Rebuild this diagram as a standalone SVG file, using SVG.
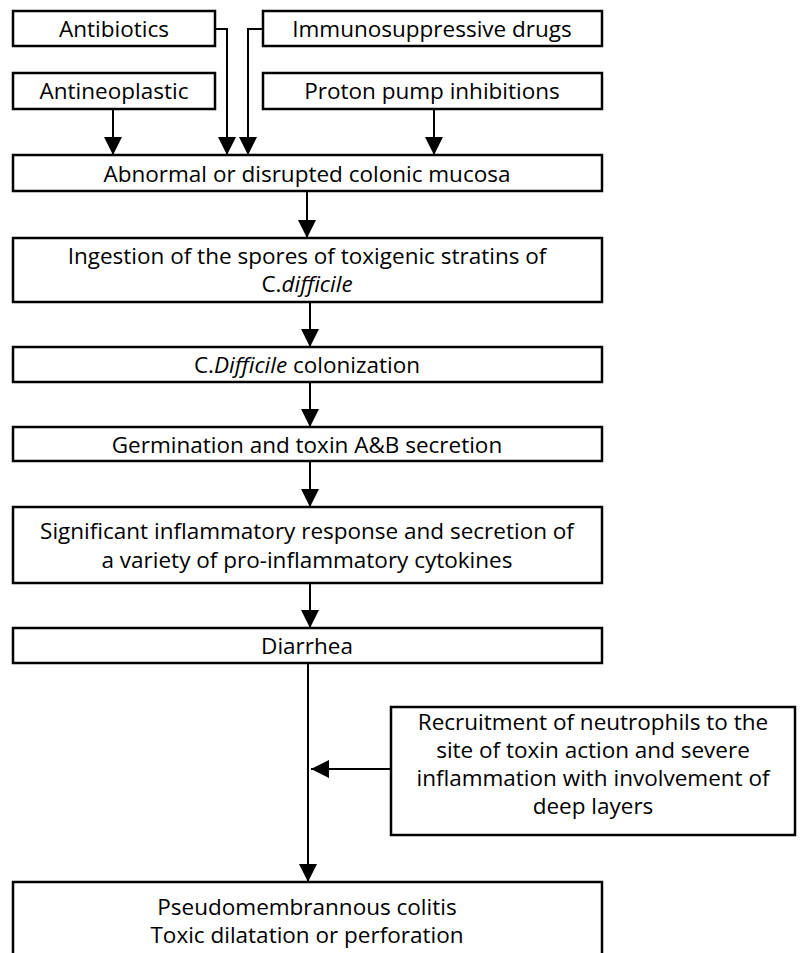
<svg xmlns="http://www.w3.org/2000/svg" width="800" height="953" viewBox="0 0 800 953">
<defs>
<marker id="ah" viewBox="0 0 18 18" refX="18" refY="9" markerWidth="18" markerHeight="18" markerUnits="userSpaceOnUse" orient="auto">
<path d="M0,0 L18,9 L0,18 Z" fill="#000"/>
</marker>
<style>
.box{fill:#fff;stroke:#000;stroke-width:2.5}
.t{font-family:"Open Sans","Liberation Sans",sans-serif;font-size:22.5px;fill:#000;text-anchor:middle}
.c{fill:none;stroke:#000;stroke-width:2}
.i{font-style:italic}
</style>
</defs>
<rect width="800" height="953" fill="#fff"/>
<g id="antibiotics"><rect class="box" x="13" y="11" width="202" height="35"/><text class="t" x="114" y="37">Antibiotics</text></g>
<g id="immuno"><rect class="box" x="263" y="11" width="339" height="35"/><text class="t" x="432" y="37">Immunosuppressive drugs</text></g>
<g id="antineoplastic"><rect class="box" x="13" y="73" width="202" height="36"/><text class="t" x="114" y="99">Antineoplastic</text></g>
<g id="proton"><rect class="box" x="263" y="73" width="339" height="36"/><text class="t" x="432" y="99">Proton pump inhibitions</text></g>
<g id="mucosa"><rect class="box" x="13" y="155" width="589" height="36"/><text class="t" x="307" y="182">Abnormal or disrupted colonic mucosa</text></g>
<g id="ingestion"><rect class="box" x="13" y="238" width="589" height="64"/><text class="t" x="307" y="264">Ingestion of the spores of toxigenic stratins of</text><text class="t" x="307" y="292">C.<tspan class="i">difficile</tspan></text></g>
<g id="colonization"><rect class="box" x="13" y="347" width="589" height="35"/><text class="t" x="307" y="373">C.<tspan class="i">Difficile</tspan> colonization</text></g>
<g id="germination"><rect class="box" x="13" y="427" width="589" height="34"/><text class="t" x="307" y="453">Germination and toxin A&amp;B secretion</text></g>
<g id="inflammatory"><rect class="box" x="13" y="507" width="589" height="76"/><text class="t" x="307" y="539">Significant inflammatory response and secretion of</text><text class="t" x="307" y="568">a variety of pro-inflammatory cytokines</text></g>
<g id="diarrhea"><rect class="box" x="13" y="628" width="589" height="35"/><text class="t" x="307" y="654">Diarrhea</text></g>
<g id="recruitment"><rect class="box" x="391" y="707" width="404" height="128"/><text class="t" x="593" y="730">Recruitment of neutrophils to the</text><text class="t" x="593" y="758">site of toxin action and severe</text><text class="t" x="593" y="786">inflammation with involvement of</text><text class="t" x="593" y="814">deep layers</text></g>
<g id="pseudo"><rect class="box" x="13" y="882" width="589" height="90"/><text class="t" x="307" y="915">Pseudomembrannous colitis</text><text class="t" x="307" y="943">Toxic dilatation or perforation</text></g>
<g id="connectors">
<path class="c" d="M113,109 V155" marker-end="url(#ah)"/>
<path class="c" d="M215,29 H227 V155" marker-end="url(#ah)"/>
<path class="c" d="M263,29 H248 V155" marker-end="url(#ah)"/>
<path class="c" d="M434,109 V155" marker-end="url(#ah)"/>
<path class="c" d="M307,191 V238" marker-end="url(#ah)"/>
<path class="c" d="M310,302 V347" marker-end="url(#ah)"/>
<path class="c" d="M310,382 V427" marker-end="url(#ah)"/>
<path class="c" d="M310,461 V507" marker-end="url(#ah)"/>
<path class="c" d="M310,583 V628" marker-end="url(#ah)"/>
<path class="c" d="M308,663 V882" marker-end="url(#ah)"/>
<path class="c" d="M391,769 H311" marker-end="url(#ah)"/>
</g>
</svg>
